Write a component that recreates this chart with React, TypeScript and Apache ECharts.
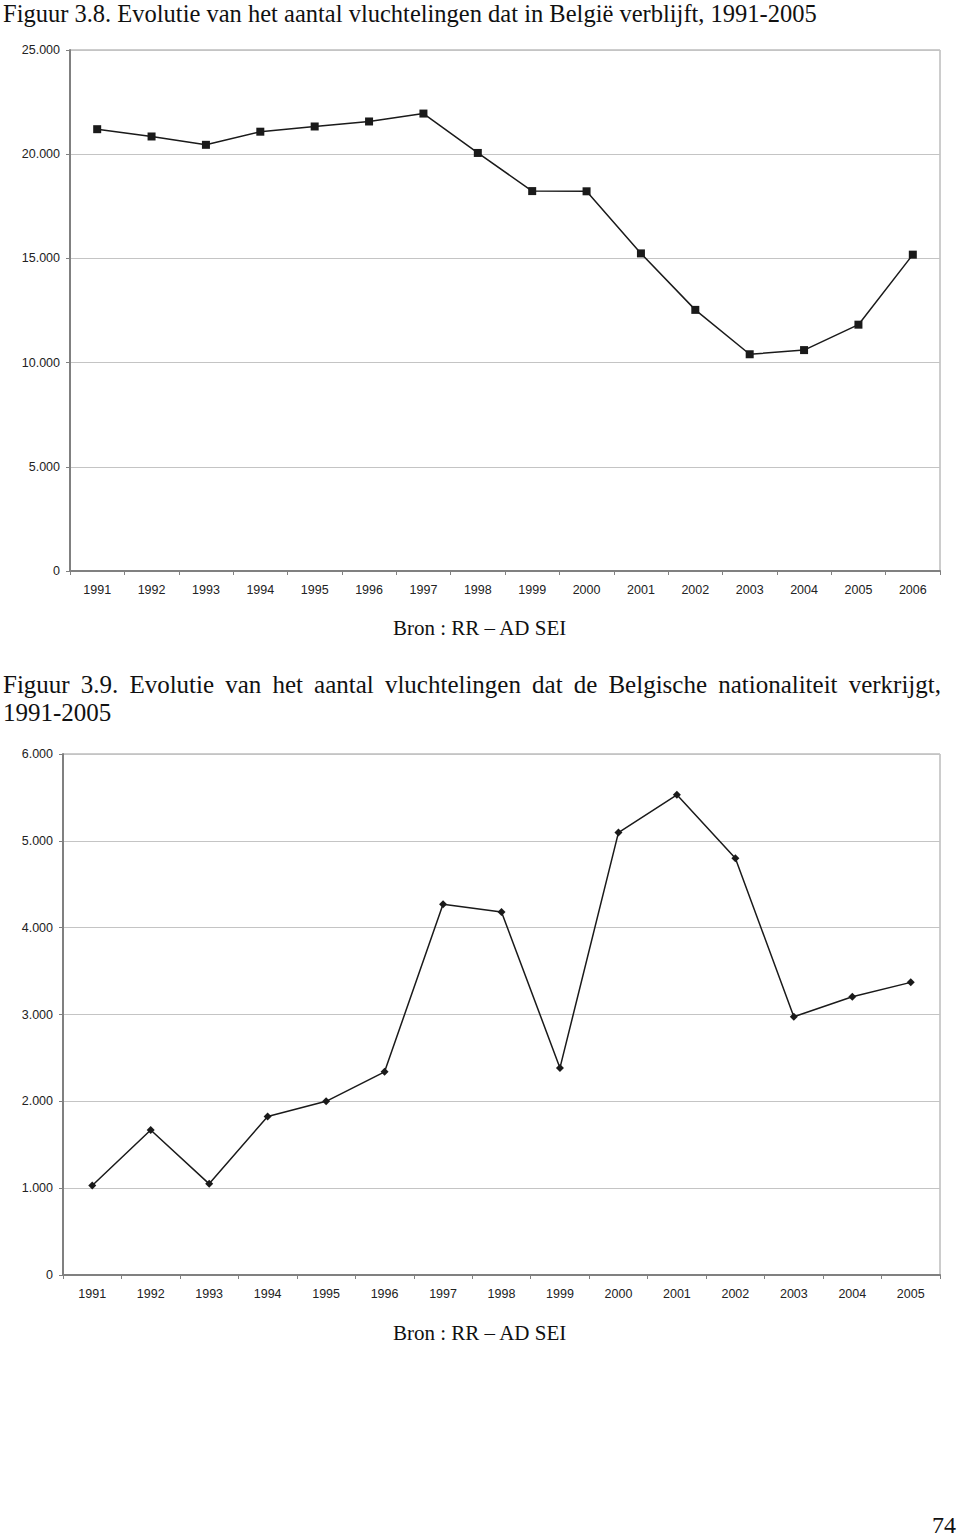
import React, { useEffect, useRef } from "react";
import * as echarts from "echarts";

// ---- Data ----
const years1: string[] = ["1991","1992","1993","1994","1995","1996","1997","1998","1999","2000","2001","2002","2003","2004","2005","2006"];
const refugeesInBelgium: number[] = [21200, 20850, 20450, 21080, 21330, 21570, 21950, 20060, 18230, 18220, 15240, 12530, 10400, 10600, 11820, 15180];

const years2: string[] = ["1991","1992","1993","1994","1995","1996","1997","1998","1999","2000","2001","2002","2003","2004","2005"];
const naturalised: number[] = [1030, 1670, 1050, 1825, 2000, 2340, 4270, 4180, 2385, 5095, 5530, 4800, 2975, 3205, 3370];

const title1 = "Figuur 3.8. Evolutie van het aantal vluchtelingen dat in België verblijft, 1991-2005";
const title2Line1 = "Figuur 3.9. Evolutie van het aantal vluchtelingen dat de Belgische nationaliteit verkrijgt,";
const title2Line2 = "1991-2005";
const sourceText = "Bron : RR – AD SEI";
const pageNumber = "74";

const SERIF = "'Liberation Serif', 'Times New Roman', serif";
const SANS = "'Liberation Sans', Arial, sans-serif";

function fmtThousands(v: number): string {
  const s = String(Math.round(v));
  return s.replace(/\B(?=(\d{3})+(?!\d))/g, ".");
}

function justifiedWords(text: string, x0: number, x1: number, baselineY: number, fontSize: number) {
  const canvas = document.createElement("canvas");
  const ctx = canvas.getContext("2d")!;
  ctx.font = `${fontSize}px ${SERIF}`;
  const words = text.split(" ");
  const widths = words.map((w) => ctx.measureText(w).width);
  const total = widths.reduce((a, b) => a + b, 0);
  const gap = (x1 - x0 - total) / (words.length - 1);
  let x = x0;
  return words.map((w, i) => {
    const el = {
      type: "text",
      x,
      y: baselineY - fontSize * 0.35,
      style: { text: w, font: `${fontSize}px ${SERIF}`, fill: "#111", verticalAlign: "middle", align: "left" },
    };
    x += widths[i] + gap;
    return el;
  });
}

function textEl(text: string, x: number, baselineY: number, fontSize: number, align = "left") {
  return {
    type: "text",
    x,
    y: baselineY - fontSize * 0.35,
    style: { text, font: `${fontSize}px ${SERIF}`, fill: "#111", verticalAlign: "middle", align },
  };
}

const axisLineStyle = { color: "#808080", width: 2 };

export default function App() {
  const ref = useRef<HTMLDivElement>(null);
  useEffect(() => {
    if (!ref.current) return;
    const chart = echarts.init(ref.current, undefined, { renderer: "svg" });
    const xAxisCommon = {
      type: "category",
      boundaryGap: true,
      axisLine: { show: true, lineStyle: axisLineStyle },
      axisTick: { show: true, length: 4, lineStyle: { color: "#808080", width: 1 } },
      axisLabel: { color: "#222", fontSize: 12.5, fontFamily: SANS, margin: 12 },
      splitLine: { show: false },
    };
    const yAxisCommon = {
      type: "value",
      min: 0,
      axisLine: { show: true, lineStyle: axisLineStyle },
      axisTick: { show: true, length: 4, lineStyle: { color: "#808080", width: 1 } },
      axisLabel: { color: "#222", fontSize: 12.5, fontFamily: SANS, margin: 10, formatter: (v: number) => fmtThousands(v) },
      splitLine: { show: true, lineStyle: { color: "#c4c4c4", width: 1 } },
    };
    chart.setOption({
      animation: false,
      backgroundColor: "#fff",
      grid: [
        { left: 70, top: 50, width: 870, height: 521, show: true, borderColor: "#9a9a9a", borderWidth: 1, backgroundColor: "transparent" },
        { left: 63, top: 754, width: 877, height: 521, show: true, borderColor: "#9a9a9a", borderWidth: 1, backgroundColor: "transparent" },
      ],
      xAxis: [
        { ...xAxisCommon, gridIndex: 0, data: years1 },
        { ...xAxisCommon, gridIndex: 1, data: years2 },
      ],
      yAxis: [
        { ...yAxisCommon, gridIndex: 0, max: 25000, interval: 5000 },
        { ...yAxisCommon, gridIndex: 1, max: 6000, interval: 1000 },
      ],
      series: [
        {
          type: "line",
          xAxisIndex: 0,
          yAxisIndex: 0,
          data: refugeesInBelgium,
          symbol: "rect",
          symbolSize: 8,
          showAllSymbol: true,
          lineStyle: { color: "#1a1a1a", width: 1.5 },
          itemStyle: { color: "#1a1a1a" },
        },
        {
          type: "line",
          xAxisIndex: 1,
          yAxisIndex: 1,
          data: naturalised,
          symbol: "diamond",
          symbolSize: 8,
          showAllSymbol: true,
          lineStyle: { color: "#1a1a1a", width: 1.5 },
          itemStyle: { color: "#1a1a1a" },
        },
      ],
      graphic: [
        textEl(title1, 3, 22, 24.5),
        ...justifiedWords(title2Line1, 3, 941, 693, 25),
        textEl(title2Line2, 3, 721, 25),
        textEl(sourceText, 393, 635, 21),
        textEl(sourceText, 393, 1340, 21),
        textEl(pageNumber, 956, 1533, 24, "right"),
      ],
    });
    return () => chart.dispose();
  }, []);
  return (
    <div
      ref={ref}
      style={{ position: "absolute", left: 0, top: 0, width: 960, height: 1537, background: "#fff" }}
    />
  );
}
